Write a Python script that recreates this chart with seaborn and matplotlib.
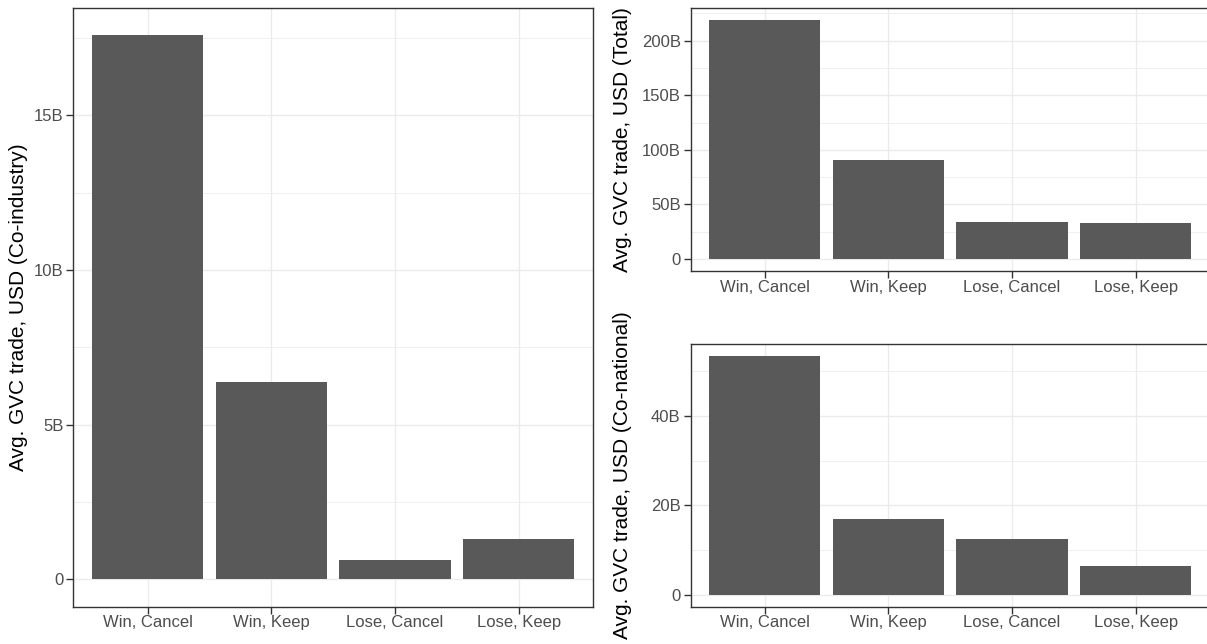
import matplotlib
matplotlib.use("Agg")
import matplotlib.pyplot as plt
import seaborn as sns
import pandas as pd
from matplotlib.ticker import FuncFormatter, MultipleLocator

# Average GVC trade (USD billions) by election outcome and policy decision
categories = ["Win, Cancel", "Win, Keep", "Lose, Cancel", "Lose, Keep"]
co_industry = [17.6, 6.38, 0.63, 1.30]
total = [219.2, 90.7, 33.6, 33.0]
co_national = [53.4, 16.85, 12.4, 6.38]

sns.set_theme(style="white")
plt.rcParams["font.family"] = ["Liberation Sans", "DejaVu Sans"]

BAR = "#595959"
GRID = "#EBEBEB"
BORDER = "#333333"
TICKTXT = "#4D4D4D"

W, H = 1207, 644
fig = plt.figure(figsize=(W / 100, H / 100), dpi=100)
fig.patch.set_facecolor("white")


def rect(l, r, t, b):
    return [l / W, 1 - b / H, (r - l) / W, (b - t) / H]


def billions(v, _pos):
    return "0" if abs(v) < 1e-9 else f"{v:g}B"


def panel(ax, values, step, label, label_x):
    df = pd.DataFrame({"group": categories, "value": values})
    sns.barplot(data=df, x="group", y="value", order=categories, color=BAR,
                saturation=1, width=0.9, edgecolor="none", ax=ax, zorder=3)
    top = max(values)
    ax.set_ylim(-0.05 * top, 1.05 * top)
    ax.set_xlim(-0.6, len(categories) - 0.4)
    ax.yaxis.set_major_locator(MultipleLocator(step))
    ax.yaxis.set_minor_locator(MultipleLocator(step / 2))
    ax.yaxis.set_major_formatter(FuncFormatter(billions))
    ax.grid(True, which="major", color=GRID, linewidth=1.0, zorder=0)
    ax.grid(True, which="minor", axis="y", color=GRID, linewidth=0.55, zorder=0)
    ax.set_axisbelow(True)
    for s in ax.spines.values():
        s.set_color(BORDER)
        s.set_linewidth(1.0)
        s.set_visible(True)
    ax.tick_params(axis="both", which="major", length=4.7, width=1.0,
                   color=BORDER, labelcolor=TICKTXT, labelsize=12,
                   left=True, bottom=True)
    ax.tick_params(axis="y", pad=2.4)
    ax.tick_params(axis="x", pad=1.5)
    ax.tick_params(axis="y", which="minor", length=0, left=False)
    ax.set_xlabel("")
    ax.set_ylabel(label, fontsize=15, color="black")
    ax.yaxis.set_label_coords(label_x, 0.5)
    ax.set_facecolor("white")


ax_left = fig.add_axes(rect(73.3, 593, 7.7, 606.7))
ax_top = fig.add_axes(rect(690.5, 1210, 7.7, 271))
ax_bot = fig.add_axes(rect(690.5, 1210, 344, 606.7))

panel(ax_left, co_industry, 5, "Avg. GVC trade, USD (Co-industry)", -0.088)
panel(ax_top, total, 50, "Avg. GVC trade, USD (Total)", -0.112)
panel(ax_bot, co_national, 20, "Avg. GVC trade, USD (Co-national)", -0.112)

fig.savefig("out.png", dpi=100, facecolor="white")
